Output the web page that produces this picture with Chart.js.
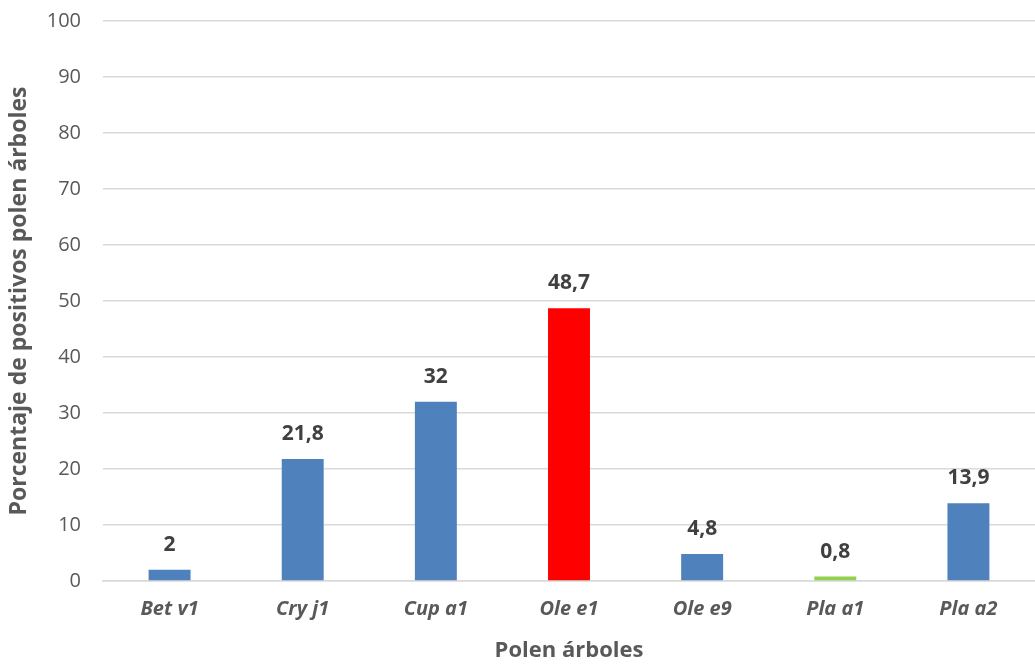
<!DOCTYPE html>
<html>
<head>
<meta charset="utf-8">
<script src="https://cdn.jsdelivr.net/npm/chart.js@4"></script>
<style>
  html, body { margin: 0; padding: 0; background: #ffffff; }
  #wrap { width: 1035px; height: 664px; }
</style>
</head>
<body>
<div id="wrap"><canvas id="c" width="1035" height="664"></canvas></div>
<script>
const categories = ['Bet v1', 'Cry j1', 'Cup a1', 'Ole e1', 'Ole e9', 'Pla a1', 'Pla a2'];
const values = [2, 21.8, 32, 48.7, 4.8, 0.8, 13.9];
const barColors = ['#4F81BD', '#4F81BD', '#4F81BD', '#FF0000', '#4F81BD', '#92D050', '#4F81BD'];
const yTicks = [0, 10, 20, 30, 40, 50, 60, 70, 80, 90, 100];

const FONT = "'Open Sans', 'Liberation Sans', sans-serif";

// Value labels above each bar, written with a decimal comma
const valueLabels = {
  id: 'valueLabels',
  afterDatasetsDraw(chart) {
    const ctx = chart.ctx;
    const meta = chart.getDatasetMeta(0);
    ctx.save();
    ctx.font = 'bold 21px ' + FONT;
    ctx.fillStyle = '#404040';
    ctx.textAlign = 'center';
    ctx.textBaseline = 'middle';
    meta.data.forEach((bar, i) => {
      const txt = String(values[i]).replace('.', ',');
      ctx.fillText(txt, bar.x, bar.y - 25);
    });
    ctx.restore();
  }
};

new Chart(document.getElementById('c'), {
  type: 'bar',
  data: {
    labels: categories,
    datasets: [{
      data: values,
      backgroundColor: barColors,
      borderWidth: 0,
      categoryPercentage: 1.0,
      barPercentage: 0.315
    }]
  },
  options: {
    responsive: false,
    animation: false,
    layout: { padding: { top: 21, right: 0, bottom: 0, left: 0 } },
    plugins: { legend: { display: false }, tooltip: { enabled: false } },
    scales: {
      x: {
        grid: { display: false, drawTicks: false },
        border: { display: true, color: '#d9d9d9', width: 1.5 },
        ticks: {
          color: '#595959',
          padding: 16,
          font: { family: FONT, size: 20, style: 'italic', weight: 'bold' }
        },
        title: {
          display: true,
          text: 'Polen árboles',
          color: '#595959',
          padding: { top: 6, bottom: 0 },
          font: { family: FONT, size: 22, weight: 'bold' }
        },
        afterFit(scale) { scale.height = 83; }
      },
      y: {
        min: 0,
        max: 100,
        afterBuildTicks(scale) { scale.ticks = yTicks.map(v => ({ value: v })); },
        grid: { color: '#d9d9d9', lineWidth: 1.5, drawTicks: false },
        border: { display: false },
        ticks: {
          color: '#595959',
          padding: 22,
          font: { family: FONT, size: 20 }
        },
        title: {
          display: true,
          text: 'Porcentaje de positivos polen árboles',
          color: '#595959',
          padding: { top: 6, bottom: 4 },
          font: { family: FONT, size: 23, weight: 'bold' }
        },
        afterFit(scale) {
          scale.width = 103;
          scale.paddingTop = 0;
          scale.paddingBottom = 0;
        }
      }
    }
  },
  plugins: [valueLabels]
});
</script>
</body>
</html>
